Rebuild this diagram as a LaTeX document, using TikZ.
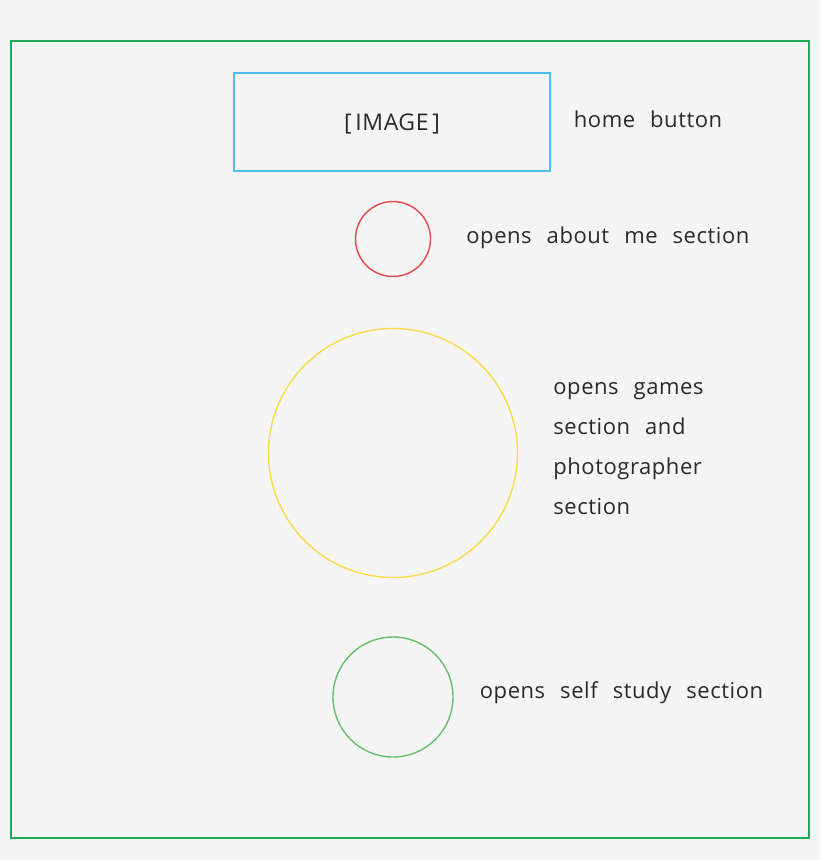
\documentclass[tikz,border=0pt]{standalone}
\usepackage{fontspec}
\setmainfont{Open Sans}[WordSpace=2.4, LetterSpace=2.5]
\usepackage{xcolor}
\usetikzlibrary{positioning}

\definecolor{pagebg}{HTML}{F5F5F5}
\definecolor{framegreen}{HTML}{1FA855}
\definecolor{homeblue}{HTML}{4FC0EE}
\definecolor{aboutred}{HTML}{E5474B}
\definecolor{gamesyellow}{HTML}{F7DC4A}
\definecolor{studygreen}{HTML}{66C06A}
\definecolor{labeltext}{HTML}{2A2A2A}

\begin{document}
\begin{tikzpicture}[
    x=1pt, y=-1pt,
    button/.style={draw, line width=1.4pt, inner sep=0pt},
    note/.style={font=\fontsize{22}{40}\selectfont, text=labeltext, anchor=west, inner sep=0pt, align=left}
]

\useasboundingbox[fill=pagebg] (0,0) rectangle (820,860);
\draw[framegreen, line width=2.6pt] (11,41) rectangle (809,838);

\node[button, draw=homeblue, minimum width=316pt, minimum height=98pt,
      font=\fontsize{23}{24}\selectfont, text=labeltext] (home) at (392,122) {};
\node[font=\fontsize{23}{24}\selectfont, text=labeltext, yshift=-2pt] (homeimg) at (home.center) {[\,IMAGE\,]};
\node[note, right=23pt of home.east, yshift=3pt] (homelbl) {home button};

\node[button, circle, draw=aboutred, minimum size=75pt] (about) at (393,239) {};
\node[note, right=35pt of about.east, yshift=1pt] (aboutlbl) {opens about me section};

\node[button, circle, draw=gamesyellow, minimum size=249pt] (games) at (393,453) {};
\node[note, right=35pt of games.east, yshift=4pt] (gameslbl) {opens games\\section and\\photographer\\section};

\node[button, circle, draw=studygreen, minimum size=120pt] (study) at (393,697) {};
\node[note, right=26pt of study.east, yshift=4pt] (studylbl) {opens self study section};

\end{tikzpicture}
\end{document}
